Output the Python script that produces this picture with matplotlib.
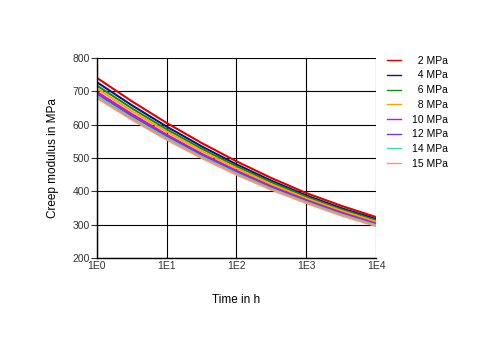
import matplotlib.pyplot as plt

plt.rcParams['font.family'] = ['Liberation Sans', 'DejaVu Sans']

# Daten (Kriechmodul über Zeit)
time_h = [1, 3.16, 10, 31.6, 100, 316, 1000, 3162, 10000]
labels = ['2 MPa', '4 MPa', '6 MPa', '8 MPa', '10 MPa', '12 MPa', '14 MPa', '15 MPa']
mpa_2 = [740, 670, 605, 545, 490, 440, 395, 357, 323]
mpa_4 = [727, 658, 594, 535, 481, 432, 388, 350, 317]
mpa_6 = [717, 649, 586, 528, 475, 427, 384, 346, 313]
mpa_8 = [708, 641, 579, 521, 469, 421, 379, 342, 309]
mpa_10 = [698, 632, 570, 513, 462, 415, 374, 337, 304]
mpa_12 = [692, 626, 565, 509, 458, 412, 371, 334, 301]
mpa_14 = [686, 620, 560, 504, 454, 408, 368, 331, 299]
mpa_15 = [680, 615, 555, 500, 450, 405, 365, 328, 296]
x_ticks = [1, 10, 100, 1000, 10000]
x_labels = ['1E0', '1E1', '1E2', '1E3', '1E4']

series = [mpa_2, mpa_4, mpa_6, mpa_8, mpa_10, mpa_12, mpa_14, mpa_15]
colors = ['#e00000', '#10108c', '#109010', '#ffa500',
          '#e010b8', '#8a2be2', '#40d8b0', '#ff9070']

fig = plt.figure(figsize=(4.87, 3.57), dpi=100)
ax = fig.add_axes([0.199, 0.277, 0.573, 0.561])

for vals, lab, col in zip(series, labels, colors):
    # Einstellige Werte mit Ziffernleerzeichen auffüllen (rechtsbündig)
    pad = '\u2007' if len(lab) < 6 else ''
    ax.plot(time_h, vals, color=col, lw=1.5, label=pad + lab)

ax.set_xscale('log')
ax.set_xlim(1, 10000)
ax.set_ylim(200, 800)
ax.set_xticks(x_ticks)
ax.set_xticklabels(x_labels)
ax.minorticks_off()
ax.set_yticks(range(200, 801, 100))
ax.grid(True, color='black', lw=0.8)
ax.tick_params(axis='x', length=0, pad=2, labelsize=7.5, colors='#333333')
ax.tick_params(axis='y', length=4, width=0.8, pad=1, labelsize=7.5, colors='#333333')
for s in ['top', 'right']:
    ax.spines[s].set_visible(False)
ax.spines['left'].set_linewidth(1.0)
ax.spines['bottom'].set_linewidth(1.0)

ax.set_xlabel('Time in h', fontsize=8.5, labelpad=17)
ax.set_ylabel('Creep modulus in MPa', fontsize=8.5, labelpad=10)

leg = fig.legend(loc='upper left', bbox_to_anchor=(0.775, 0.87), frameon=False,
                 fontsize=7.5, handlelength=1.4, handletextpad=1.0,
                 labelspacing=0.45)
for line in leg.get_lines():
    line.set_linewidth(1.0)

plt.savefig('out.png', dpi=100)
plt.close()
